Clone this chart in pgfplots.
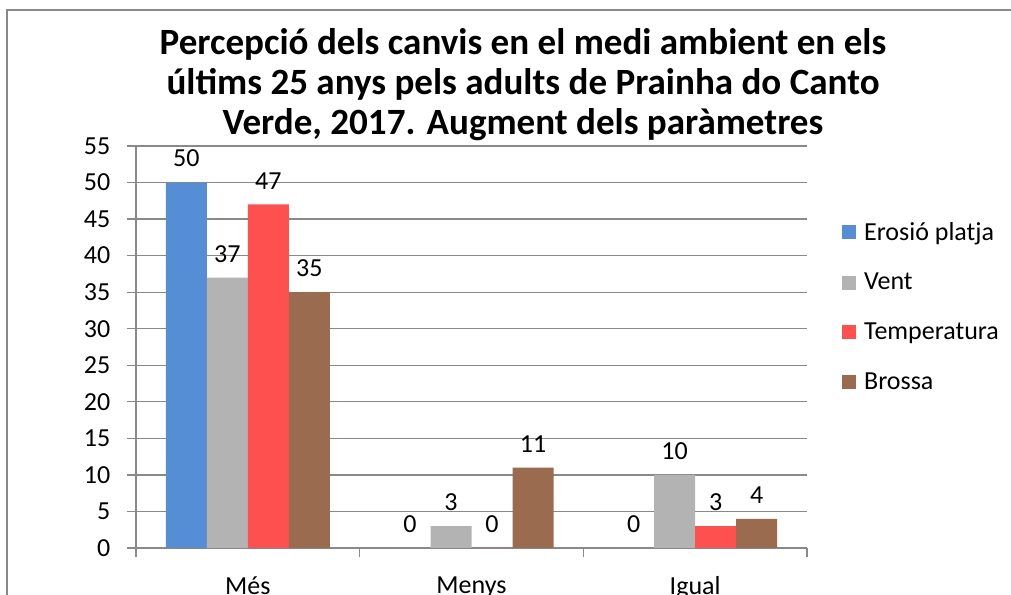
\documentclass[border=0pt]{standalone}
\usepackage{fontspec}
\setmainfont{Carlito}
\usepackage{pgfplots}
\pgfplotsset{compat=1.18}
\definecolor{cblue}{HTML}{558ED5}
\definecolor{cgray}{HTML}{B3B3B3}
\definecolor{cred}{HTML}{FF5050}
\definecolor{cbrown}{HTML}{9A6B4F}
\definecolor{axgray}{HTML}{898989}
\begin{document}
\begin{tikzpicture}
\useasboundingbox (0,0) rectangle (758.25pt,446.25pt);
\draw[axgray, line width=1.1pt] (5.25pt,-20pt) -- (5.25pt,438.75pt) -- (780pt,438.75pt);
\node[align=center, font=\fontsize{27.8pt}{30pt}\selectfont\bfseries] at (392.25pt,382.5pt)
  {Percepció dels canvis en el medi ambient en els\\últims 25 anys pels adults de Prainha do Canto\\Verde, 2017. Augment dels paràmetres};
\begin{axis}[
  at={(102pt,35.25pt)}, anchor=south west,
  scale only axis, width=503.25pt, height=301.5pt,
  ybar=0pt, bar width=30.75pt,
  xmin=-0.5, xmax=2.5, ymin=0, ymax=55,
  ytick={0,5,...,55},
  xtick={0,1,2}, xticklabels={Més,Menys,Igual},
  minor xtick={-0.5,0.5,1.5,2.5},
  axis x line*=bottom, axis y line*=left,
  axis line style={axgray, line width=0.9pt, -},
  ymajorgrids, grid style={axgray, line width=0.9pt},
  tick align=outside,
  major tick length=6.75pt, minor tick length=6.75pt,
  major x tick style={draw=none},
  minor x tick style={axgray, line width=0.9pt},
  ytick style={axgray, line width=0.9pt},
  /pgf/number format/assume math mode=true,
  tick label style={font=\fontsize{19.5pt}{22pt}\selectfont, black},
  yticklabel style={xshift=-9pt},
  xticklabel style={yshift=-11pt},
  nodes near coords,
  every node near coord/.append style={font=\fontsize{19.5pt}{22pt}\selectfont, black, yshift=8pt},
  legend style={at={(1.046,0.6)}, anchor=west, draw=none, fill=none,
    font=\fontsize{19.5pt}{22pt}\selectfont, row sep=19.25pt,
    /tikz/every even column/.append style={column sep=0pt},
    nodes={inner xsep=6pt}},
  legend cell align=left,
  legend image code/.code={\fill[#1, draw=none] (0pt,-5.25pt) rectangle (10.5pt,5.25pt);},
]
\addplot[fill=cblue, draw=none] coordinates {(0,50) (1,0) (2,0)};
\addplot[fill=cgray, draw=none] coordinates {(0,37) (1,3) (2,10)};
\addplot[fill=cred, draw=none] coordinates {(0,47) (1,0) (2,3)};
\addplot[fill=cbrown, draw=none] coordinates {(0,35) (1,11) (2,4)};
\legend{Erosió platja, Vent, Temperatura, Brossa}
\end{axis}
\end{tikzpicture}
\end{document}
